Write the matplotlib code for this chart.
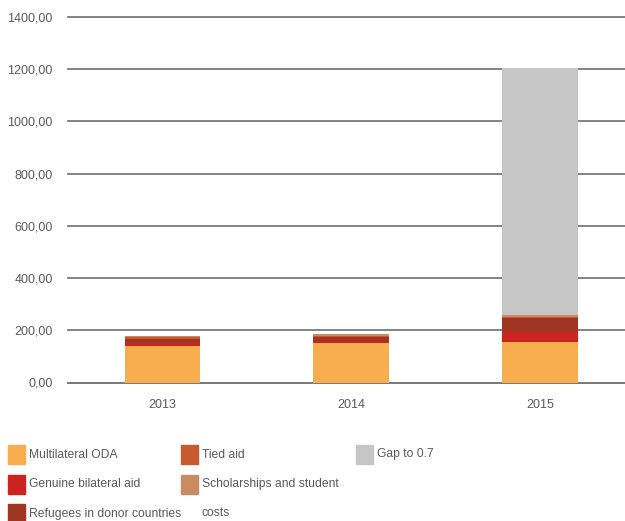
import matplotlib
matplotlib.use("Agg")
from matplotlib import pyplot as plt
from matplotlib.patches import Rectangle
import numpy as np

# data
years = ["2013", "2014", "2015"]
series = ["Multilateral ODA", "Genuine bilateral aid", "Refugees in donor countries",
          "Tied aid", "Scholarships and student\ncosts", "Gap to 0.7"]
multilateral = [138, 150, 155]
genuine_bilateral = [13, 10, 38]
refugees = [17, 15, 54]
tied_aid = [5, 4, 2]
scholarships = [5, 7, 10]
gap = [0, 0, 945]
yticks = [0, 200, 400, 600, 800, 1000, 1200, 1400]

colors = ["#F8AE4F", "#CC2320", "#9E3623", "#C85A2E", "#C98B63", "#C6C6C6"]
values = [multilateral, genuine_bilateral, refugees, tied_aid, scholarships, gap]

plt.rcParams['font.family'] = ['Liberation Sans', 'DejaVu Sans']
text_color = "#5a5a5a"
fs = 8.7  # legend
tick_fs = 9

fig = plt.figure(figsize=(6.25, 5.21), dpi=100)
ax = fig.add_axes([68 / 625, 1 - 382.5 / 521, 1 - 68 / 625, (382.5 - 17) / 521])

x = np.arange(len(years))
bottom = np.zeros(len(years))
for vals, col in zip(values, colors):
    ax.bar(x, vals, width=0.4, bottom=bottom, color=col, zorder=3)
    bottom += np.array(vals)

ax.set_xlim(-0.5, 2.45)
ax.set_ylim(0, 1400)
ax.set_yticks(yticks)
ax.set_yticklabels([f"{v:.2f}".replace('.', ',') for v in yticks])
ax.set_xticks(x)
ax.set_xticklabels(years)
ax.tick_params(axis='both', length=0, labelsize=tick_fs, colors=text_color)
ax.tick_params(axis='y', pad=11)
ax.tick_params(axis='x', pad=12)

ax.yaxis.grid(True, color="#7a7a7a", linewidth=1.3, zorder=1)
for line in ax.get_ygridlines():
    line.set_clip_on(False)
for side in ["top", "right", "left"]:
    ax.spines[side].set_visible(False)
ax.spines["bottom"].set_color("#7a7a7a")
ax.spines["bottom"].set_linewidth(1.3)

# legend laid out by hand, 3 columns
col_x = [8, 181, 356]
row_y = [445, 474.5, 504]
for i, (name, col) in enumerate(zip(series, colors)):
    if i < 3:
        c, r = 0, i
    elif i < 5:
        c, r = 1, i - 3
    else:
        c, r = 2, 0
    x0 = col_x[c]
    y0 = row_y[r]
    fig.patches.append(Rectangle((x0 / 625, 1 - (y0 + 19) / 521), 17 / 625, 19 / 521,
                                 transform=fig.transFigure, color=col))
    if "\n" in name:
        fig.text((x0 + 21) / 625, 1 - (y0 + 3) / 521, name, fontsize=fs,
                 color=text_color, va='top', ha='left', linespacing=3.0)
    else:
        fig.text((x0 + 21) / 625, 1 - (y0 + 9.5) / 521, name, fontsize=fs,
                 color=text_color, va='center', ha='left')

fig.savefig("out.png", dpi=100)
